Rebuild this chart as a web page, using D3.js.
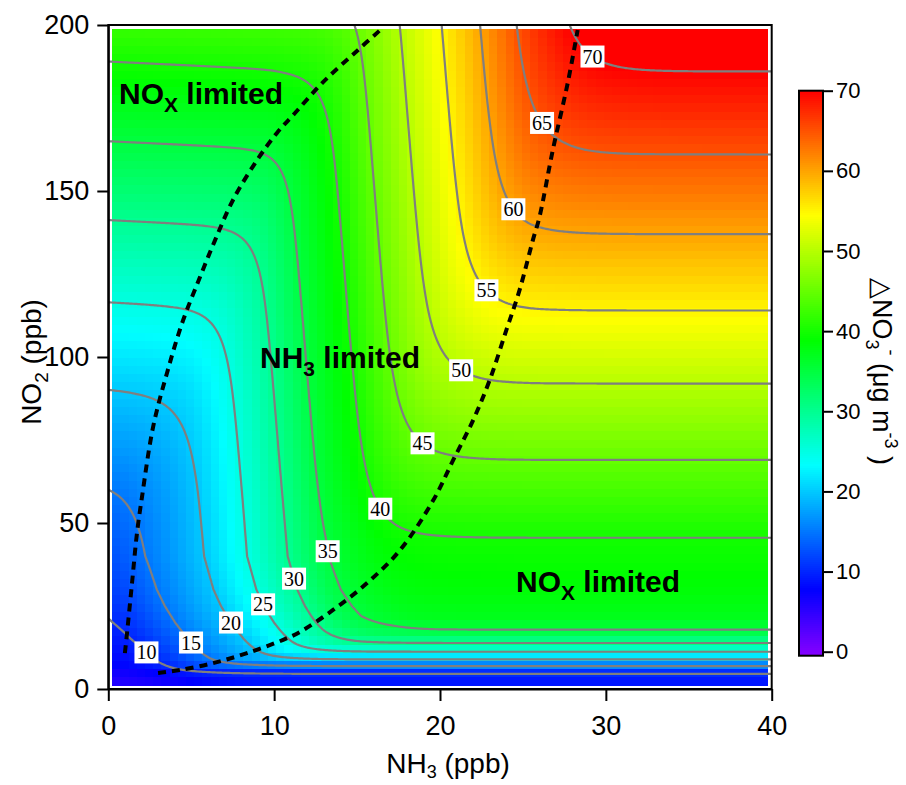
<!DOCTYPE html>
<html><head><meta charset="utf-8">
<script src="https://cdn.jsdelivr.net/npm/d3@7"></script>
<style>body{margin:0;background:#fff;} svg{display:block;}</style>
</head><body><svg id="chart" width="906" height="785"></svg>
<script>
// ---------------- data ----------------
const contourLevels = [10, 15, 20, 25, 30, 35, 40, 45, 50, 55, 60, 65, 70];
const xTicks = [0, 10, 20, 30, 40];
const yTicks = [0, 50, 100, 150, 200];
const cbTicks = [0, 10, 20, 30, 40, 50, 60, 70];

// NOx-limited regime (right edge, high NH3): NO2 (ppb) -> ΔNO3-
const noxNO2   = [0, 4.7, 6.9, 8.9, 11.2, 13.8, 17.8, 22, 30, 45.6, 69, 92, 114, 137, 161, 186, 200];
const noxValue = [8.2, 10, 15, 20, 25, 30, 35, 37.3, 38.5, 40, 45, 50, 55, 60, 65, 70, 72.8];
// low-NH3 edge (left edge): NO2 (ppb) -> ΔNO3-
const edgeNO2   = [0, 21, 60, 90, 116, 141, 165, 189, 200];
const edgeValue = [6.5, 9.0, 14.7, 19.95, 24.9, 29.95, 35, 40, 42.3];
// NH3-limited regime: effective NH3 (ppb) -> ΔNO3-
const nh3Eff   = [-8, -5, -1.5, 1.54, 4.85, 7.41, 9.81, 11.9, 14.65, 16.85, 19.2, 21.7, 24.0, 26.1, 28.7, 45];
const nh3Value = [0, 4, 9.5, 15, 20, 25, 30, 35, 40, 45, 50, 55, 60, 65, 70, 104];
// NH3 offset of the NH3-limited contours as a function of NO2
const shiftNO2 = [0, 5, 10, 15, 20, 25, 30, 40, 57, 100, 200];
const shiftNH3 = [7, 5, 4.2, 3.3, 2.55, 1.95, 1.5, 0.95, 0.69, 0, -1.6];

// contour label anchors (NH3, NO2)
const labelNH3 = [2.70, 5.35, 7.28, 8.97, 10.96, 13.43, 15.96, 18.92, 21.09, 22.78, 24.35, 26.16, 29.3];
const labelNO2 = [13.3, 15.7, 19.9, 24.7, 32.8, 41.6, 53.0, 73.8, 94.9, 120.2, 144.3, 170.8, 191.6];

// dashed regime boundaries
const leftBoundaryNH3 = [1.0, 1.13, 1.43, 1.73, 2.03, 2.70, 3.54, 4.45, 5.53, 6.44, 7.52, 8.97, 10.17, 11.26, 12.95, 15.06, 16.4];
const leftBoundaryNO2 = [10.8, 16.9, 31.9, 47.0, 57.8, 78.9, 95.2, 110.2, 124.1, 135.2, 147.3, 159.3, 167.5, 173.5, 182.8, 192.5, 198.5];
const rightBoundaryNH3 = [3.0, 4.32, 6.32, 8.36, 10.54, 11.56, 13.55, 15.6, 17.6, 19.6, 20.8, 22.0, 23.0, 24.0, 24.8, 25.6, 26.0, 26.8, 27.7, 28.3];
const rightBoundaryNO2 = [4.8, 5.7, 7.8, 10.8, 14.8, 17.2, 23.8, 31.9, 41.9, 56.9, 69.0, 81.0, 93.1, 108.1, 120.2, 135.2, 142.2, 162.3, 182.5, 198.5];

// ---------------- chart ----------------
const svg = d3.select("#chart");
const SANS = "'Liberation Sans', Arial, Helvetica, sans-serif";
const SERIF = "'Liberation Serif', 'Times New Roman', serif";

const x = d3.scaleLinear().domain([0, 40]).range([108.3, 771.7]);
const y = d3.scaleLinear().domain([0, 200]).range([689, 25]);

const gNOx = d3.scaleLinear().domain(noxNO2).range(noxValue);
const hEdge = d3.scaleLinear().domain(edgeNO2).range(edgeValue);
const fNH3 = d3.scaleLinear().domain(nh3Eff).range(nh3Value);
const oShift = d3.scaleLinear().domain(shiftNO2).range(shiftNH3);
function smax(a, b, t) { const m = Math.max(a, b); return m + t * Math.log(Math.exp((a - m) / t) + Math.exp((b - m) / t)); }
function smin(a, b, t) { return -smax(-a, -b, t); }
function field(nh3, no2) {
  const H = hEdge(no2) + 0.05 * nh3;
  const K = fNH3(nh3 - oShift(no2));
  const G = gNOx(no2);
  return smin(smax(H, K, 2), G, 3);
}
const hue = d3.scaleLinear().domain([0, 70]).range([270, 0]).clamp(true);
const color = v => d3.hsl(hue(v), 1, 0.5).toString();

// heatmap
const nCX = 80, nCY = 80;
const cellX = d3.scaleLinear().domain([0, nCX]).range([x(0) + 4, x(40) - 4]);
const cellY = d3.scaleLinear().domain([0, nCY]).range([y(0) - 4, y(200) + 4]);
const cells = [];
for (let j = 0; j < nCY; j++) for (let i = 0; i < nCX; i++) {
  const cx = (cellX(i) + cellX(i + 1)) / 2, cy = (cellY(j) + cellY(j + 1)) / 2;
  cells.push({i, j, v: field(x.invert(cx), y.invert(cy))});
}
svg.append("g").attr("shape-rendering", "crispEdges").selectAll("rect").data(cells).join("rect")
  .attr("x", d => cellX(d.i)).attr("y", d => cellY(d.j + 1))
  .attr("width", d => cellX(d.i + 1) - cellX(d.i) + 0.6)
  .attr("height", d => cellY(d.j) - cellY(d.j + 1) + 0.6)
  .attr("fill", d => color(d.v));

// contours
const gx0 = -1, gdx = 0.1, gy0 = -5, gdy = 0.5, nx = 421, ny = 421;
const values = new Float64Array(nx * ny);
for (let j = 0; j < ny; j++) for (let i = 0; i < nx; i++) values[j * nx + i] = field(gx0 + i * gdx, gy0 + j * gdy);
const cs = d3.contours().size([nx, ny]).thresholds(contourLevels)(values);
const toPx = (px, py) => [x(gx0 + (px - 0.5) * gdx), y(gy0 + (py - 0.5) * gdy)];
const proj = d3.geoTransform({point(px, py) { const p = toPx(px, py); this.stream.point(p[0], p[1]); }});
const path = d3.geoPath(proj);

svg.append("clipPath").attr("id", "plotclip").append("rect")
  .attr("x", x(0)).attr("y", y(200)).attr("width", x(40) - x(0)).attr("height", y(0) - y(200));
svg.append("g").attr("clip-path", "url(#plotclip)").selectAll("path").data(cs).join("path")
  .attr("d", path).attr("fill", "none").attr("stroke", "#7f7f7f").attr("stroke-width", 2.2);

// dashed boundaries
const dline = d3.line().curve(d3.curveCatmullRom).x(d => x(d[0])).y(d => y(d[1]));
const gDash = svg.append("g").attr("clip-path", "url(#plotclip)");
[[leftBoundaryNH3, leftBoundaryNO2], [rightBoundaryNH3, rightBoundaryNO2]].forEach(([a, b]) => {
  gDash.append("path").attr("d", dline(a.map((v, k) => [v, b[k]])))
    .attr("fill", "none").attr("stroke", "#000").attr("stroke-width", 4).attr("stroke-dasharray", "8,6");
});

// contour labels (snapped to computed contour)
const gLab = svg.append("g");
contourLevels.forEach((lev, k) => {
  const ax = x(labelNH3[k]), ay = y(labelNO2[k]);
  let best = null, bd = Infinity;
  const c = cs[k];
  c.coordinates.forEach(poly => poly.forEach(ring => ring.forEach(p => {
    const q = toPx(p[0], p[1]);
    if (q[0] < x(0) + 2 || q[0] > x(40) - 2 || q[1] < y(200) + 2 || q[1] > y(0) - 2) return;
    const d = (q[0] - ax) ** 2 + (q[1] - ay) ** 2;
    if (d < bd) { bd = d; best = q; }
  })));
  if (!best || bd > 400) best = [ax, ay];
  gLab.append("rect").attr("x", best[0] - 12).attr("y", best[1] - 11).attr("width", 24).attr("height", 22).attr("fill", "#fff");
  gLab.append("text").attr("x", best[0]).attr("y", best[1]).attr("dy", "0.35em").attr("text-anchor", "middle")
    .attr("font-family", SERIF).attr("font-size", 20).text(lev);
});

// frame
svg.append("rect").attr("x", x(0)).attr("y", y(200)).attr("width", x(40) - x(0)).attr("height", y(0) - y(200))
  .attr("fill", "none").attr("stroke", "#000").attr("stroke-width", 2);

// axes
const xAxis = svg.append("g").attr("transform", `translate(0,${y(0)})`)
  .call(d3.axisBottom(x).tickValues(xTicks).tickSize(12).tickSizeOuter(0).tickPadding(15));
const yAxis = svg.append("g").attr("transform", `translate(${x(0)},0)`)
  .call(d3.axisLeft(y).tickValues(yTicks).tickSize(11).tickSizeOuter(0).tickPadding(8));
[xAxis, yAxis].forEach(g => {
  g.selectAll("path,line").attr("stroke", "#000").attr("stroke-width", 2);
  g.selectAll("text").attr("font-family", SANS).attr("font-size", 27).attr("fill", "#000");
});

// axis titles
const tx = svg.append("text").attr("x", 448).attr("y", 773).attr("text-anchor", "middle")
  .attr("font-family", SANS).attr("font-size", 28);
tx.append("tspan").text("NH");
tx.append("tspan").attr("font-size", 18).attr("dy", 5).text("3");
tx.append("tspan").attr("dy", -5).text(" (ppb)");
const ty = svg.append("text").attr("transform", "translate(41,362) rotate(-90)").attr("text-anchor", "middle")
  .attr("font-family", SANS).attr("font-size", 28);
ty.append("tspan").text("NO");
ty.append("tspan").attr("font-size", 19).attr("dy", 7).text("2");
ty.append("tspan").attr("dy", -7).text(" (ppb)");

// region labels
function regionLabel(px, py, main, sub) {
  const t = svg.append("text").attr("x", px).attr("y", py).attr("font-family", SANS)
    .attr("font-size", 30).attr("font-weight", "bold");
  t.append("tspan").text(main);
  t.append("tspan").attr("font-size", 21).attr("dy", 8).text(sub);
  t.append("tspan").attr("dy", -8).text(" limited");
}
regionLabel(119, 104, "NO", "X");
regionLabel(260, 368, "NH", "3");
regionLabel(516, 592, "NO", "X");

// colorbar
const cb = d3.scaleLinear().domain([0, 70]).range([651.7, 90.7]);
const cbX = 799, cbW = 24;
const steps = d3.range(-0.5, 70, 0.25);
svg.append("g").attr("shape-rendering", "crispEdges").selectAll("rect").data(steps).join("rect")
  .attr("x", cbX).attr("width", cbW)
  .attr("y", d => cb(Math.min(d + 0.25, 70))).attr("height", d => cb(d) - cb(Math.min(d + 0.25, 70)) + 0.5)
  .attr("fill", d => color(d + 0.125));
svg.append("rect").attr("x", cbX).attr("y", cb(70)).attr("width", cbW).attr("height", cb(-0.5) - cb(70))
  .attr("fill", "none").attr("stroke", "#000").attr("stroke-width", 2);
const cbAxis = svg.append("g").attr("transform", `translate(${cbX + cbW},0)`)
  .call(d3.axisRight(cb).tickValues(cbTicks).tickSize(10).tickSizeOuter(0).tickPadding(3));
cbAxis.select(".domain").remove();
cbAxis.selectAll("line").attr("stroke", "#000").attr("stroke-width", 2);
cbAxis.selectAll("text").attr("font-family", SANS).attr("font-size", 22).attr("fill", "#000");

const ct = svg.append("text").attr("transform", "translate(873,278) rotate(90)")
  .attr("font-family", SANS).attr("font-size", 27);
ct.append("tspan").text("\u25B3NO");
ct.append("tspan").attr("font-size", 18).attr("dy", 7).text("3");
ct.append("tspan").attr("font-size", 18).attr("dy", -19).text("-");
ct.append("tspan").attr("dy", 12).text(" (\u03BCg m");
ct.append("tspan").attr("font-size", 18).attr("dy", -12).text("-3");
ct.append("tspan").attr("dy", 12).text(" )");
</script>
</body></html>
